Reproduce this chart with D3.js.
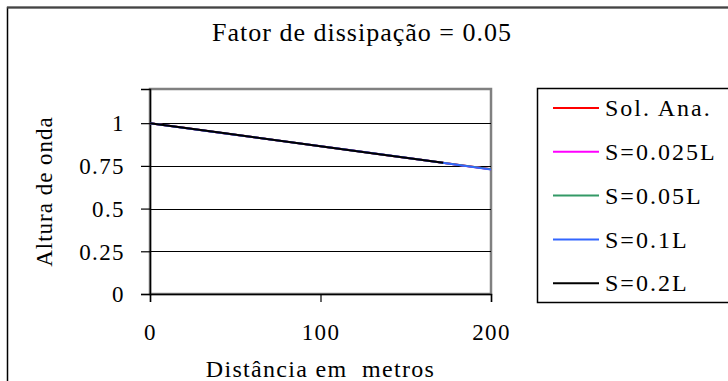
<!DOCTYPE html>
<html>
<head>
<meta charset="utf-8">
<script src="https://cdn.jsdelivr.net/npm/d3@7"></script>
<style>
  html, body { margin: 0; padding: 0; background: #fff; }
  svg { display: block; }
  text { font-family: "Liberation Serif", "Times New Roman", serif; fill: #000; }
</style>
</head>
<body>
<svg id="chart" width="728" height="381"></svg>
<script>
// Wave height decay along the channel, dissipation factor 0.05
const titleText = "Fator de dissipação = 0.05";
const xTitle = "Distância em  metros";
const yTitle = "Altura de onda";

const xTicks = [0, 100, 200];
const yTicks = [0, 0.25, 0.5, 0.75, 1];
const yTickLabels = ["0", "0.25", "0.5", "0.75", "1"];

const seriesNames = ["Sol. Ana.", "S=0.025L", "S=0.05L", "S=0.1L", "S=0.2L"];
const seriesColors = ["#ff0000", "#ff00ff", "#339966", "#3366ff", "#000000"];

// distance (m) and wave height per series
const xSolAna = [0, 20, 40, 60, 80, 100, 120, 140, 160, 180, 200];
const hSolAna = [1.0, 0.973, 0.946, 0.919, 0.892, 0.865, 0.838, 0.811, 0.784, 0.757, 0.73];
const xS0025 = [0, 25, 50, 75, 100, 125, 150, 175, 200];
const hS0025 = [1.0, 0.966, 0.932, 0.899, 0.865, 0.831, 0.797, 0.764, 0.73];
const xS005 = [0, 25, 50, 75, 100, 125, 150, 175, 200];
const hS005 = [1.0, 0.966, 0.932, 0.899, 0.865, 0.831, 0.797, 0.764, 0.731];
const xS01 = [0, 40, 80, 120, 160, 200];
const hS01 = [1.0, 0.946, 0.892, 0.838, 0.784, 0.728];
const xS02 = [0, 43, 86, 129, 172];
const hS02 = [1.0, 0.942, 0.884, 0.826, 0.768];

const seriesX = [xSolAna, xS0025, xS005, xS01, xS02];
const seriesY = [hSolAna, hS0025, hS005, hS01, hS02];

const svg = d3.select("#chart");

// outer chart frame (runs off the right and bottom edges)
svg.append("rect")
  .attr("x", 7.5).attr("y", 7.5)
  .attr("width", 760).attr("height", 400)
  .attr("fill", "#fff").attr("stroke", "#000").attr("stroke-width", 1.5);
svg.append("line")
  .attr("x1", 7).attr("x2", 728).attr("y1", 7.5).attr("y2", 7.5)
  .attr("stroke", "#444").attr("stroke-width", 2);

const plot = { left: 150, right: 491, top: 89, bottom: 294 };

const x = d3.scaleLinear().domain([0, 200]).range([plot.left, plot.right]);
const y = d3.scaleLinear().domain([0, 1.2]).range([plot.bottom, plot.top]);

// plot area border
svg.append("rect")
  .attr("x", plot.left).attr("y", plot.top)
  .attr("width", plot.right - plot.left).attr("height", plot.bottom - plot.top)
  .attr("fill", "none").attr("stroke", "#808080").attr("stroke-width", 2.5);

// horizontal gridlines
svg.append("g")
  .selectAll("line")
  .data(yTicks.filter(d => d > 0))
  .join("line")
  .attr("x1", plot.left).attr("x2", plot.right)
  .attr("y1", d => Math.round(y(d)) + 0.5).attr("y2", d => Math.round(y(d)) + 0.5)
  .attr("stroke", "#000").attr("stroke-width", 1);

const tickFont = sel => sel
  .style("font-family", '"Liberation Serif", serif')
  .style("font-size", "23px")
  .style("letter-spacing", "1.4px")
  .attr("fill", "#000");

// y axis
const yAxis = d3.axisLeft(y)
  .tickValues(yTicks)
  .tickSize(9)
  .tickPadding(16)
  .tickFormat((d, i) => yTickLabels[i]);
const gy = svg.append("g").attr("transform", `translate(${plot.left},0)`).call(yAxis);
gy.select(".domain").attr("stroke", "#000").attr("stroke-width", 1.5);
gy.selectAll(".tick line").attr("stroke", "#000").attr("stroke-width", 1.2);
gy.selectAll(".tick text").call(tickFont).attr("dy", "0.34em");

// x axis
const xAxis = d3.axisBottom(x)
  .tickValues(xTicks)
  .tickSize(8)
  .tickPadding(22)
  .tickFormat(d3.format("d"));
const gx = svg.append("g").attr("transform", `translate(0,${plot.bottom})`).call(xAxis);
gx.select(".domain").attr("stroke", "#000").attr("stroke-width", 1.5);
gx.selectAll(".tick line").attr("stroke", "#000").attr("stroke-width", 1.2);
gx.selectAll(".tick text").call(tickFont);

// series lines
const line = d3.line().x(d => x(d[0])).y(d => y(d[1]));
seriesNames.forEach((name, i) => {
  const pts = seriesX[i].map((v, j) => [v, seriesY[i][j]]);
  svg.append("path")
    .datum(pts)
    .attr("d", line)
    .attr("fill", "none")
    .attr("stroke", seriesColors[i])
    .attr("stroke-width", 2);
});

// title
svg.append("text")
  .attr("x", 362).attr("y", 41)
  .attr("text-anchor", "middle")
  .style("font-size", "26px")
  .style("letter-spacing", "1px")
  .text(titleText);

// axis titles
svg.append("text")
  .attr("x", (plot.left + plot.right) / 2).attr("y", 377)
  .attr("text-anchor", "middle")
  .style("font-size", "24px")
  .style("letter-spacing", "1.3px")
  .style("white-space", "pre")
  .attr("xml:space", "preserve")
  .text(xTitle);

svg.append("text")
  .attr("transform", `translate(52,${(plot.top + plot.bottom) / 2}) rotate(-90)`)
  .attr("text-anchor", "middle")
  .style("font-size", "23px")
  .style("letter-spacing", "1px")
  .text(yTitle);

// legend
const legend = { left: 537, top: 88, bottom: 302, rowGap: 43.8 };
svg.append("rect")
  .attr("x", legend.left + 0.5).attr("y", legend.top + 0.5)
  .attr("width", 220).attr("height", legend.bottom - legend.top)
  .attr("fill", "#fff").attr("stroke", "#000").attr("stroke-width", 1.5);

const lg = svg.append("g");
seriesNames.forEach((name, i) => {
  const cy = legend.top + 20 + i * legend.rowGap;
  lg.append("line")
    .attr("x1", 553).attr("x2", 599)
    .attr("y1", cy).attr("y2", cy)
    .attr("stroke", seriesColors[i]).attr("stroke-width", 2);
  lg.append("text")
    .attr("x", 605).attr("y", cy)
    .attr("dy", "0.34em")
    .style("font-size", "24px")
    .style("letter-spacing", "2px")
    .text(name);
});
</script>
</body>
</html>
